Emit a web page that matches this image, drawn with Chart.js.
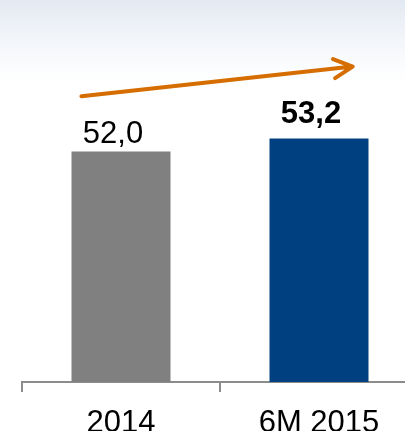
<!DOCTYPE html>
<html>
<head>
<meta charset="utf-8">
<script src="https://cdn.jsdelivr.net/npm/chart.js@4/dist/chart.umd.min.js"></script>
<style>
  html, body { margin: 0; padding: 0; }
  body {
    width: 405px; height: 431px; overflow: hidden;
    background: linear-gradient(to bottom, #e3e9f2 0px, #edf1f7 25px, #f6f8fb 50px, #fcfdfe 70px, #ffffff 85px);
  }
  #wrap { position: relative; width: 430px; height: 431px; }
</style>
</head>
<body>
<div id="wrap"><canvas id="chart" width="430" height="431"></canvas></div>
<script>
const categories = ['2014', '6M 2015'];
const values = [52.0, 53.2];
const valueLabels = ['52,0', '53,2'];
const boldLabels = [false, true];
const barColors = ['#808080', '#004080'];

// trend arrow, in axis units (category index, value)
const arrowFrom = { x: -0.2, y: 57.1 };
const arrowTo = { x: 1.17, y: 59.85 };

const FONT = '"Liberation Sans", Arial, sans-serif';

const valueLabelPlugin = {
  id: 'valueLabels',
  afterDatasetsDraw(chart) {
    const ctx = chart.ctx;
    const meta = chart.getDatasetMeta(0);
    ctx.save();
    ctx.fillStyle = '#000';
    ctx.textAlign = 'center';
    ctx.textBaseline = 'alphabetic';
    meta.data.forEach((bar, i) => {
      ctx.font = (boldLabels[i] ? 'bold ' : '') + '31px ' + FONT;
      const gap = boldLabels[i] ? 16 : 9;
      ctx.fillText(valueLabels[i], bar.x - 8, bar.y - gap);
    });
    ctx.restore();
  }
};

const arrowPlugin = {
  id: 'trendArrow',
  afterDatasetsDraw(chart) {
    const { ctx, scales: { x, y } } = chart;
    const x1 = x.getPixelForValue(arrowFrom.x), y1 = y.getPixelForValue(arrowFrom.y);
    const x2 = x.getPixelForValue(arrowTo.x), y2 = y.getPixelForValue(arrowTo.y);
    const ang = Math.atan2(y2 - y1, x2 - x1);
    const head = 21, spread = 27 * Math.PI / 180;
    ctx.save();
    ctx.strokeStyle = '#d56d00';
    ctx.lineWidth = 4;
    ctx.lineCap = 'round';
    ctx.lineJoin = 'round';
    ctx.beginPath();
    ctx.moveTo(x1, y1);
    ctx.lineTo(x2, y2);
    ctx.moveTo(x2 - head * Math.cos(ang - spread), y2 - head * Math.sin(ang - spread));
    ctx.lineTo(x2, y2);
    ctx.lineTo(x2 - head * Math.cos(ang + spread), y2 - head * Math.sin(ang + spread));
    ctx.stroke();
    ctx.restore();
  }
};

new Chart(document.getElementById('chart'), {
  type: 'bar',
  data: {
    labels: categories,
    datasets: [{
      data: values,
      backgroundColor: barColors,
      barPercentage: 0.5,
      categoryPercentage: 1.0
    }]
  },
  options: {
    responsive: false,
    animation: false,
    layout: { padding: { left: 22, right: 12, top: 0, bottom: 0 } },
    plugins: { legend: { display: false }, tooltip: { enabled: false } },
    scales: {
      x: {
        afterFit(scale) { scale.height = 49; },  // labels run off the bottom edge like the original
        grid: { display: true, drawOnChartArea: false, drawTicks: true, tickLength: 10, color: '#8c8c8c', lineWidth: 2 },
        border: { display: true, color: '#8c8c8c', width: 2 },
        ticks: { color: '#000', font: { family: FONT, size: 31 }, padding: 13, maxRotation: 0 }
      },
      y: { display: false, min: 30.7, max: 66 }
    }
  },
  plugins: [valueLabelPlugin, arrowPlugin]
});
</script>
</body>
</html>
